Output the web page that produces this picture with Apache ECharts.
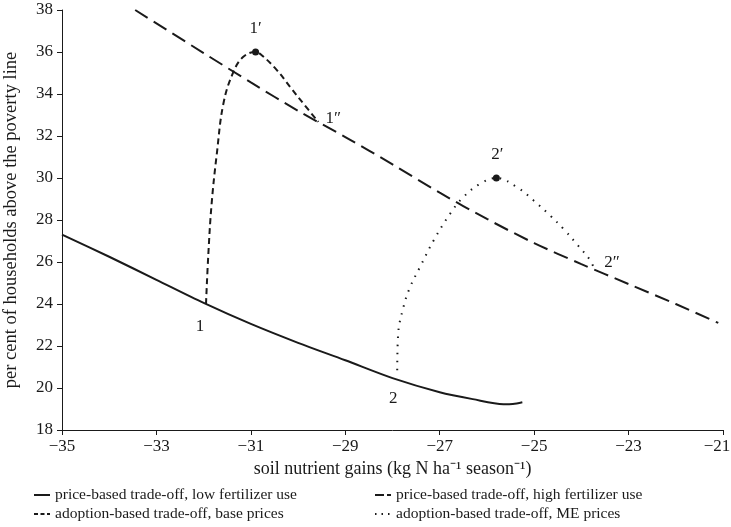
<!DOCTYPE html>
<html>
<head>
<meta charset="utf-8">
<script src="https://cdn.jsdelivr.net/npm/echarts@6/dist/echarts.min.js"></script>
<style>
  html, body { margin: 0; padding: 0; background: #fff; }
  #chart { width: 731px; height: 527px; }
</style>
</head>
<body>
<div id="chart"></div>
<script>
// 曲线数据 [x, y]
const lowFertilizer = [
  [-35, 27.3], [-34, 26.25], [-33, 25.15], [-32, 24.05], [-31, 23.05],
  [-30, 22.15], [-29, 21.32], [-28, 20.47], [-27, 19.8], [-26.3, 19.47],
  [-25.65, 19.23], [-25.45, 19.24], [-25.25, 19.32]
];
const highFertilizer = [
  [-33.45, 38], [-32, 35.95], [-31, 34.55], [-30, 33.2], [-29, 31.95],
  [-28, 30.65], [-27, 29.3], [-26, 28.05], [-25, 26.9], [-24, 25.9],
  [-23, 24.95], [-22, 24.0], [-21.1, 23.1]
];
const basePrices = [
  [-31.95, 24.0], [-31.9, 26.4], [-31.83, 28.8], [-31.72, 31.17], [-31.58, 33.56],
  [-31.37, 35.05], [-31.16, 35.77], [-30.9, 36.0], [-30.77, 35.85], [-30.45, 35.14],
  [-30.17, 34.34], [-29.89, 33.55], [-29.57, 32.67]
];
const mePrices = [
  [-27.9, 20.85], [-27.88, 22.57], [-27.77, 23.84], [-27.63, 24.79], [-27.42, 25.75],
  [-27.13, 27.02], [-26.78, 28.3], [-26.5, 29.09], [-26.14, 29.73], [-25.8, 30.0],
  [-25.37, 29.57], [-25.01, 28.93], [-24.66, 28.21], [-24.38, 27.58], [-24.1, 26.86],
  [-23.81, 26.07], [-23.73, 25.67]
];

// 标注点
const pointNames = ['1', '2', '1′', '2′', '1″', '2″'];
const pointValues = [
  [-31.95, 24.0], [-27.9, 20.37], [-30.9, 36.0], [-25.8, 30.0], [-29.57, 32.67], [-23.73, 25.67]
];
const dotNames = ['1′', '2′'];

const xTicks = { min: -35, max: -21, step: 2 };
const yTicks = { min: 18, max: 38, step: 2 };

const seriesNames = [
  'price-based trade-off, low fertilizer use',
  'price-based trade-off, high fertilizer use',
  'adoption-based trade-off, base prices',
  'adoption-based trade-off, ME prices'
];

const font = 'Liberation Serif';
const ink = '#1a1a1a';
// 标签偏移
const labelOffsets = {
  '1': [-6, 23], '2': [-4, 18], '1′': [0, -23], '2′': [1, -23], '1″': [15, -3], '2″': [18, -6]
};

const lineSeries = (name, data, type, width, smooth) => ({
  name,
  type: 'line',
  data,
  symbol: 'none',
  smooth,
  lineStyle: { color: ink, width, type },
  itemStyle: { color: ink },
  z: 2
});

// 图例：每项单独放置，线型单独设置
const legendItem = (name, left, top, dash) => ({
  data: [name],
  left,
  top,
  padding: 0,
  itemWidth: 16,
  itemHeight: 10,
  itemStyle: { color: 'rgba(0,0,0,0)', borderWidth: 0, opacity: 0 },
  lineStyle: { type: dash, width: 2, color: ink },
  textStyle: { fontFamily: font, fontSize: 15.5, color: ink }
});

const option = {
  animation: false,
  backgroundColor: '#fff',
  grid: { left: 62, right: 8, top: 10, bottom: 97, containLabel: false, outerBoundsMode: 'none' },
  xAxis: {
    type: 'value',
    min: xTicks.min,
    max: xTicks.max,
    interval: xTicks.step,
    name: 'soil nutrient gains (kg N ha⁻¹ season⁻¹)',
    nameLocation: 'middle',
    nameGap: 26,
    nameTextStyle: { fontFamily: font, fontSize: 18, color: ink },
    axisLine: { lineStyle: { color: ink, width: 1 } },
    axisTick: { show: true, length: 5, lineStyle: { color: ink } },
    axisLabel: {
      margin: 8,
      fontFamily: font, fontSize: 17, color: ink,
      formatter: v => {
        const s = String(v).replace('-', '\u2212');
        return v === xTicks.max ? '{last|' + s + '}' : s;
      },
      rich: { last: { fontFamily: font, fontSize: 17, color: ink, padding: [0, 12, 0, 0] } }
    },
    splitLine: { show: false }
  },
  yAxis: {
    type: 'value',
    min: yTicks.min,
    max: yTicks.max,
    interval: yTicks.step,
    name: 'per cent of households above the poverty line',
    nameLocation: 'middle',
    nameGap: 41,
    nameTextStyle: { fontFamily: font, fontSize: 18.5, color: ink },
    axisLine: { show: true, lineStyle: { color: ink, width: 1 } },
    axisTick: { show: true, length: 5, lineStyle: { color: ink } },
    axisLabel: { margin: 9, fontFamily: font, fontSize: 17, color: ink },
    splitLine: { show: false }
  },
  legend: [
    legendItem(seriesNames[0], 33, 487, 'solid'),
    legendItem(seriesNames[1], 374, 487, [9, 3]),
    legendItem(seriesNames[2], 33, 506, [4, 2.5]),
    legendItem(seriesNames[3], 374, 506, [1.5, 5])
  ],
  series: [
    lineSeries(seriesNames[0], lowFertilizer, 'solid', 2, 0.3),
    lineSeries(seriesNames[1], highFertilizer, [15, 7], 2, 0.3),
    lineSeries(seriesNames[2], basePrices, [6, 4], 2, 0.4),
    lineSeries(seriesNames[3], mePrices, [1.5, 6.5], 2, 0.4),
    {
      name: 'points',
      type: 'scatter',
      z: 5,
      data: pointNames.map((n, i) => ({
        name: n,
        value: pointValues[i],
        symbolSize: dotNames.includes(n) ? 7 : 0,
        label: { offset: labelOffsets[n] }
      })),
      itemStyle: { color: ink, opacity: 1 },
      label: {
        show: true,
        position: 'inside',
        formatter: '{b}',
        fontFamily: font,
        fontSize: 17,
        color: ink
      }
    }
  ]
};

const chart = echarts.init(document.getElementById('chart'));
chart.setOption(option);
</script>
</body>
</html>
